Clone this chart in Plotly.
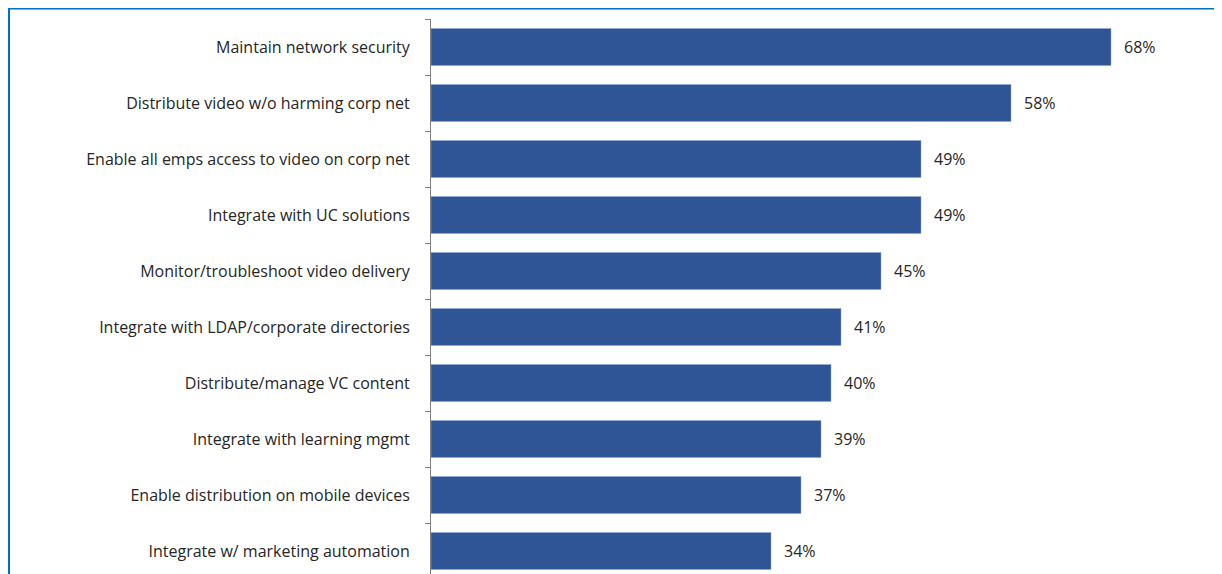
import plotly.graph_objects as go

categories = [
    "Maintain network security",
    "Distribute video w/o harming corp net",
    "Enable all emps access to video on corp net",
    "Integrate with UC solutions",
    "Monitor/troubleshoot video delivery",
    "Integrate with LDAP/corporate directories",
    "Distribute/manage VC content",
    "Integrate with learning mgmt",
    "Enable distribution on mobile devices",
    "Integrate w/ marketing automation",
]
values = [68, 58, 49, 49, 45, 41, 40, 39, 37, 34]
value_labels = [f"{v}%" for v in values]

# page offset from default body margin
OFF = 8
W, H = 1222, 574
L, R, T, B = 431 - OFF, 30, 19 - OFF, OFF
pw, ph = W - L - R, H - T - B
px_per_unit = 10.0
xmax = pw / px_per_unit
band = 56.0
nb = ph / band

FONT = "Open Sans"
TXT = "#262626"

fig = go.Figure(go.Bar(
    x=values, y=categories, orientation="h",
    marker=dict(color="#2F5597", line=dict(color="#8FA6CF", width=0.5)),
    width=0.66,
    hoverinfo="skip",
))

annotations = [
    dict(x=v, y=c, xref="x", yref="y", text=t, showarrow=False,
         xanchor="left", yanchor="middle", xshift=11,
         font=dict(family=FONT, size=16, color=TXT))
    for c, v, t in zip(categories, values, value_labels)
]

def px_to_paper_x(px):
    return (px - OFF - L) / pw

def py_to_paper_y(py):
    return (H - B - (py - OFF)) / ph

frame_color = "#0070C0"
shapes = [
    dict(type="line", xref="paper", yref="paper",
         x0=px_to_paper_x(8), x1=px_to_paper_x(1260),
         y0=py_to_paper_y(8.5), y1=py_to_paper_y(8.5),
         line=dict(color=frame_color, width=2)),
    dict(type="line", xref="paper", yref="paper",
         x0=px_to_paper_x(9), x1=px_to_paper_x(9),
         y0=py_to_paper_y(7.5), y1=py_to_paper_y(620),
         line=dict(color=frame_color, width=2)),
]

fig.update_layout(
    width=W, height=H,
    margin=dict(l=L, r=R, t=T, b=B, pad=0),
    paper_bgcolor="white", plot_bgcolor="white",
    showlegend=False,
    shapes=shapes,
    annotations=annotations,
    font=dict(family=FONT, size=16, color=TXT),
    xaxis=dict(range=[0, xmax], visible=False, fixedrange=True),
    yaxis=dict(
        categoryorder="array", categoryarray=categories,
        range=[-0.5 + nb, -0.5],
        showline=True, linecolor="#7F7F7F", linewidth=1,
        ticks="outside", ticklen=5, tickcolor="#7F7F7F", tickwidth=1,
        tickson="boundaries", ticklabelstandoff=17,
        showgrid=False, zeroline=False,
        tickfont=dict(family=FONT, size=16, color=TXT),
    ),
)

fig.write_html("out.html")
